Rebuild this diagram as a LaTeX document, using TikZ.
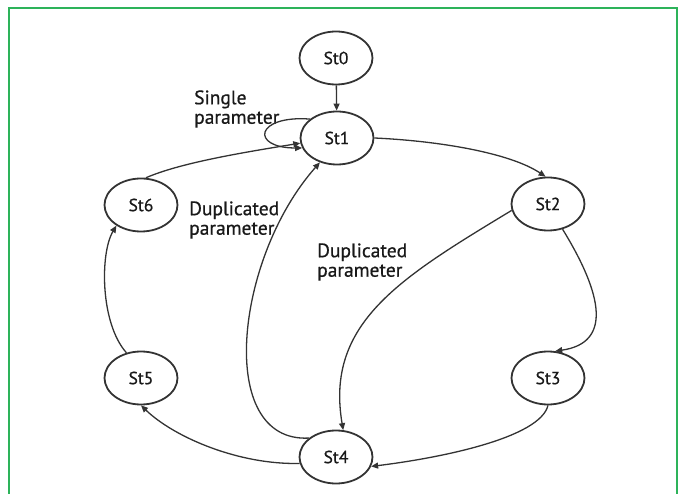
\documentclass[tikz,border=0pt]{standalone}
\usepackage{fontspec}
\setmainfont{PT Sans}
\newfontfamily\diafont{PT Sans}[FakeBold=0.6]
\usetikzlibrary{shapes.geometric,arrows.meta}
\definecolor{frame}{HTML}{2DB35A}
\definecolor{ink}{HTML}{333333}
\begin{document}
\begin{tikzpicture}[x=1pt,y=1pt,
  state/.style={ellipse,draw=ink,line width=1.8pt,minimum width=73pt,minimum height=53pt,inner sep=0pt,font=\diafont\fontsize{17.5}{17.5}\selectfont,text=black!90},
  lbl/.style={align=left,anchor=west,font=\diafont\fontsize{19.5}{19.5}\selectfont,text=black!90,inner sep=0pt},
  edge/.style={draw=ink,line width=1.3pt,-{Triangle[length=7pt,width=6pt]}}]
\useasboundingbox (0,0) rectangle (685,493);
\draw[frame,line width=2pt] (9,-2) -- (9,485) -- (677,485) -- (677,-2);
\node[state] (s0) at (336,435) {St0};
\node[state] (s1) at (337,355) {St1};
\node[state] (s2) at (548,289) {St2};
\node[state] (s3) at (548,115) {St3};
\node[state] (s4) at (336,36) {St4};
\node[state] (s5) at (141,115) {St5};
\node[state] (s6) at (141,288) {St6};
\node[lbl] (l1) at (194,384) {Single\\parameter};
\node[lbl] (l2) at (189,273) {Duplicated\\parameter};
\node[lbl] (l3) at (317,231) {Duplicated\\parameter};
\draw[edge] (s0) -- (s1);
\draw[edge] (s1.145) .. controls (255,378) and (250,345) .. (s1.196);
\draw[edge] (s6.80) .. controls (180,330) and (240,340) .. (s1.188);
\draw[edge] (s4.145) .. controls (215,50) and (235,235) .. (s1.235);
\draw[edge] (s1.east) .. controls (440,352) and (510,340) .. (s2.95);
\draw[edge] (s2.190) .. controls (400,215) and (325,170) .. (s4.75);
\draw[edge] (s2.-60) .. controls (603,198) and (612,150) .. (s3.75);
\draw[edge] (s3.-90) .. controls (540,55) and (440,35) .. (s4.-15);
\draw[edge] (s4.190) .. controls (240,28) and (175,55) .. (s5.-90);
\draw[edge] (s5.120) .. controls (100,170) and (100,240) .. (s6.-140);
\end{tikzpicture}
\end{document}
